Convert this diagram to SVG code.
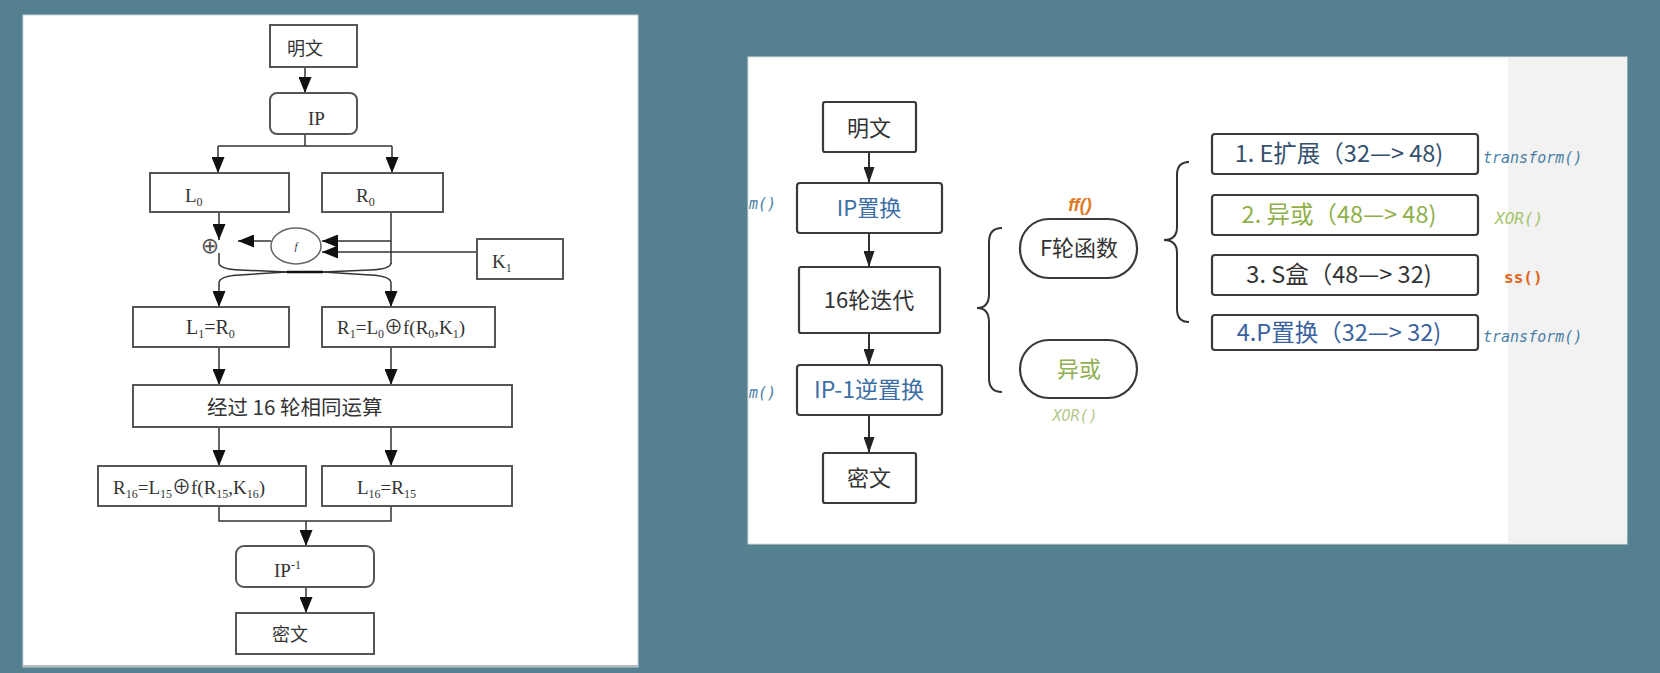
<svg xmlns="http://www.w3.org/2000/svg" width="1660" height="673" viewBox="0 0 1660 673">
<defs>
<style>
.lbox{fill:#fff;stroke:#555;stroke-width:2}
.lline{fill:none;stroke:#333;stroke-width:1.5}
.ltxt{font-family:"Liberation Serif","Noto Sans CJK SC",serif;font-size:19px;fill:#333}
.lcjk{font-family:"Noto Sans CJK SC","Liberation Serif",serif;font-size:18px;fill:#333}
.rbox{fill:#fff;stroke:#3a3a3a;stroke-width:2.2}
.rline{fill:none;stroke:#333;stroke-width:2}
.rtxt{font-family:"Noto Sans CJK SC","Noto Sans",sans-serif;font-size:22px;fill:#333;text-anchor:middle}
.stxt{font-size:23.5px}
.mono{font-family:"DejaVu Sans Mono","Liberation Mono",monospace;font-style:italic}
.sub{font-size:12px}
</style>
<marker id="la" viewBox="0 0 16 13" refX="16" refY="6.5" markerWidth="16" markerHeight="13" markerUnits="userSpaceOnUse" orient="auto"><path d="M0,0 L16,6.5 L0,13 z" fill="#111"/></marker>
<marker id="ra" viewBox="0 0 16 11" refX="16" refY="5.5" markerWidth="16" markerHeight="11" markerUnits="userSpaceOnUse" orient="auto"><path d="M0,0 L16,5.5 L0,11 z" fill="#222"/></marker>
</defs>
<rect x="0" y="0" width="1660" height="673" fill="#55808f"/>
<!-- left panel -->
<rect x="23" y="15" width="615" height="652" fill="#fff" stroke="#d0d6d8" stroke-width="1"/>
<line x1="23" y1="666" x2="638" y2="666" stroke="#b8bcbe" stroke-width="2"/>
<!-- right panel -->
<rect x="748" y="57" width="879" height="487" fill="#fff" stroke="#d8dcdc" stroke-width="1"/>
<rect x="1508" y="58" width="118" height="485" fill="#f2f2f2"/>

<g id="left-connectors">
<path class="lline" d="M305,67 V93" marker-end="url(#la)"/>
<path class="lline" d="M305,134 V146 M218,146 H392"/>
<path class="lline" d="M218,146 V173" marker-end="url(#la)"/>
<path class="lline" d="M392,146 V173" marker-end="url(#la)"/>
<path class="lline" d="M219,212 V240" marker-end="url(#la)"/>
<path class="lline" d="M271,241 H238" marker-end="url(#la)"/>
<path class="lline" d="M391,212 V264"/>
<path class="lline" d="M391,241 H322" marker-end="url(#la)"/>
<path class="lline" d="M477,252 H322" marker-end="url(#la)"/>
<path class="lline" d="M219,253 V263 Q219,269 240,270 L287,272 H323 L370,270 Q391,269 391,263"/>
<path class="lline" d="M287,272 L240,275 Q219,276 219,283 V307" marker-end="url(#la)"/>
<path class="lline" d="M323,272 L370,275 Q391,276 391,283 V307" marker-end="url(#la)"/>
<path d="M287,272 H323" stroke="#111" stroke-width="2.5"/>
<path class="lline" d="M219,347 V385" marker-end="url(#la)"/>
<path class="lline" d="M391,347 V385" marker-end="url(#la)"/>
<path class="lline" d="M219,427 V466" marker-end="url(#la)"/>
<path class="lline" d="M391,427 V466" marker-end="url(#la)"/>
<path class="lline" d="M219,506 V521 H391 V506"/>
<path class="lline" d="M306,521 V546" marker-end="url(#la)"/>
<path class="lline" d="M306,587 V613" marker-end="url(#la)"/>
</g>

<g id="l-plain"><rect class="lbox" x="270" y="25" width="87" height="42"/><text class="lcjk" x="305" y="55" text-anchor="middle">明文</text></g>
<g id="l-ip"><rect class="lbox" x="270" y="93" width="87" height="41" rx="7"/><text class="ltxt" x="308" y="125">IP</text></g>
<g id="l-l0"><rect class="lbox" x="150" y="173" width="139" height="39"/><text class="ltxt" x="185" y="202">L<tspan class="sub" dy="4">0</tspan></text></g>
<g id="l-r0"><rect class="lbox" x="322" y="173" width="121" height="39"/><text class="ltxt" x="356" y="202">R<tspan class="sub" dy="4">0</tspan></text></g>
<g id="l-xor"><text x="210" y="253" font-family="DejaVu Sans,sans-serif" font-size="22" fill="#555" text-anchor="middle">⊕</text></g>
<g id="l-f"><ellipse cx="296" cy="246" rx="25" ry="18" fill="#fff" stroke="#666" stroke-width="1.5"/><text x="296" y="250" font-family="Liberation Serif,serif" font-style="italic" font-size="11" fill="#333" text-anchor="middle">f</text></g>
<g id="l-k1"><rect class="lbox" x="477" y="239" width="86" height="40"/><text class="ltxt" x="492" y="268">K<tspan class="sub" dy="4">1</tspan></text></g>
<g id="l-l1"><rect class="lbox" x="133" y="307" width="156" height="40"/><text class="ltxt" x="186" y="334" style="font-size:20px">L<tspan class="sub" dy="4">1</tspan><tspan dy="-4">=R</tspan><tspan class="sub" dy="4">0</tspan></text></g>
<g id="l-r1"><rect class="lbox" x="322" y="307" width="173" height="40"/><text class="ltxt" x="337" y="334">R<tspan class="sub" dy="4">1</tspan><tspan dy="-4">=L</tspan><tspan class="sub" dy="4">0</tspan><tspan dy="-4">⊕f(R</tspan><tspan class="sub" dy="4">0</tspan><tspan dy="-4">,K</tspan><tspan class="sub" dy="4">1</tspan><tspan dy="-4">)</tspan></text></g>
<g id="l-16"><rect class="lbox" x="133" y="385" width="379" height="42"/><text class="lcjk" x="207" y="415" style="font-size:20.5px">经过 16 轮相同运算</text></g>
<g id="l-r16"><rect class="lbox" x="98" y="466" width="208" height="40"/><text class="ltxt" x="113" y="494">R<tspan class="sub" dy="4">16</tspan><tspan dy="-4">=L</tspan><tspan class="sub" dy="4">15</tspan><tspan dy="-4">⊕f(R</tspan><tspan class="sub" dy="4">15</tspan><tspan dy="-4">,K</tspan><tspan class="sub" dy="4">16</tspan><tspan dy="-4">)</tspan></text></g>
<g id="l-l16"><rect class="lbox" x="322" y="466" width="190" height="40"/><text class="ltxt" x="357" y="494">L<tspan class="sub" dy="4">16</tspan><tspan dy="-4">=R</tspan><tspan class="sub" dy="4">15</tspan></text></g>
<g id="l-ipinv"><rect class="lbox" x="236" y="546" width="138" height="41" rx="8"/><text class="ltxt" x="274" y="577">IP<tspan class="sub" dy="-8">-1</tspan></text></g>
<g id="l-cipher"><rect class="lbox" x="236" y="613" width="138" height="41"/><text class="lcjk" x="290" y="641" text-anchor="middle">密文</text></g>

<g id="right-connectors">
<path class="rline" d="M869,152 V183" marker-end="url(#ra)"/>
<path class="rline" d="M869,233 V267" marker-end="url(#ra)"/>
<path class="rline" d="M869,333 V365" marker-end="url(#ra)"/>
<path class="rline" d="M869,415 V453" marker-end="url(#ra)"/>
<path class="rline" d="M1002,228 Q989,228 989,242 L989,294 Q989,308 977,308 Q989,308 989,322 L989,378 Q989,392 1002,392"/>
<path class="rline" d="M1189,162 Q1177,162 1177,175 L1177,227 Q1177,240 1164,240 Q1177,240 1177,253 L1177,309 Q1177,322 1189,322"/>
</g>

<g id="r-m1"><text class="mono" x="749" y="209" font-size="15" style="fill:#4a7fa8">m()</text></g>
<g id="r-m2"><text class="mono" x="749" y="398" font-size="15" style="fill:#4a7fa8">m()</text></g>
<g id="r-plain"><rect class="rbox" x="823" y="102" width="93" height="50" rx="2"/><text class="rtxt" x="869" y="136">明文</text></g>
<g id="r-ip"><rect class="rbox" x="797" y="183" width="145" height="50" rx="3"/><text class="rtxt" x="869" y="216" style="fill:#3d6fa5">IP置换</text></g>
<g id="r-16"><rect class="rbox" x="799" y="267" width="141" height="66" rx="2"/><text class="rtxt" x="869" y="308">16轮迭代</text></g>
<g id="r-ipinv"><rect class="rbox" x="797" y="365" width="145" height="50" rx="3"/><text class="rtxt" x="869" y="398" style="fill:#3d6fa5;font-size:23px">IP-1逆置换</text></g>
<g id="r-cipher"><rect class="rbox" x="823" y="453" width="93" height="50" rx="2"/><text class="rtxt" x="869" y="486">密文</text></g>
<g id="r-ff"><text x="1080" y="211" font-family="Liberation Sans,sans-serif" font-weight="bold" font-style="italic" font-size="18" style="fill:#e07a24" text-anchor="middle">ff()</text></g>
<g id="r-f"><rect class="rbox" x="1020" y="219" width="117" height="59" rx="29"/><text class="rtxt" x="1079" y="256">F轮函数</text></g>
<g id="r-xor"><rect class="rbox" x="1020" y="340" width="117" height="58" rx="29"/><text class="rtxt" x="1079" y="377" style="fill:#8fb050">异或</text></g>
<g id="r-xorfn"><text class="mono" x="1075" y="421" font-size="15" style="fill:#b3c98a" text-anchor="middle">XOR()</text></g>
<g id="r-s1"><rect class="rbox" x="1212" y="134" width="266" height="40" rx="3"/><text class="rtxt stxt" x="1339" y="162" style="fill:#34506e">1. E扩展（32—&gt; 48)</text></g>
<g id="r-s2"><rect class="rbox" x="1212" y="195" width="266" height="40" rx="3"/><text class="rtxt stxt" x="1339" y="223" style="fill:#8fb04a">2. 异或（48—&gt; 48)</text></g>
<g id="r-s3"><rect class="rbox" x="1212" y="255" width="266" height="40" rx="3"/><text class="rtxt stxt" x="1339" y="283">3. S盒（48—&gt; 32)</text></g>
<g id="r-s4"><rect class="rbox" x="1212" y="315" width="266" height="35" rx="3"/><text class="rtxt stxt" x="1339" y="341" style="fill:#3b62a0">4.P置换（32—&gt; 32)</text></g>
<g id="r-t1"><text class="mono" x="1483" y="163" font-size="15" style="fill:#4a7fa8">transform()</text></g>
<g id="r-t2"><text class="mono" x="1495" y="224" font-size="16" style="fill:#a4c46a">XOR()</text></g>
<g id="r-t3"><text x="1504" y="283" font-family="DejaVu Sans Mono,monospace" font-weight="bold" font-size="16" style="fill:#e0661c">ss()</text></g>
<g id="r-t4"><text class="mono" x="1483" y="342" font-size="15" style="fill:#4a7fa8">transform()</text></g>
</svg>
